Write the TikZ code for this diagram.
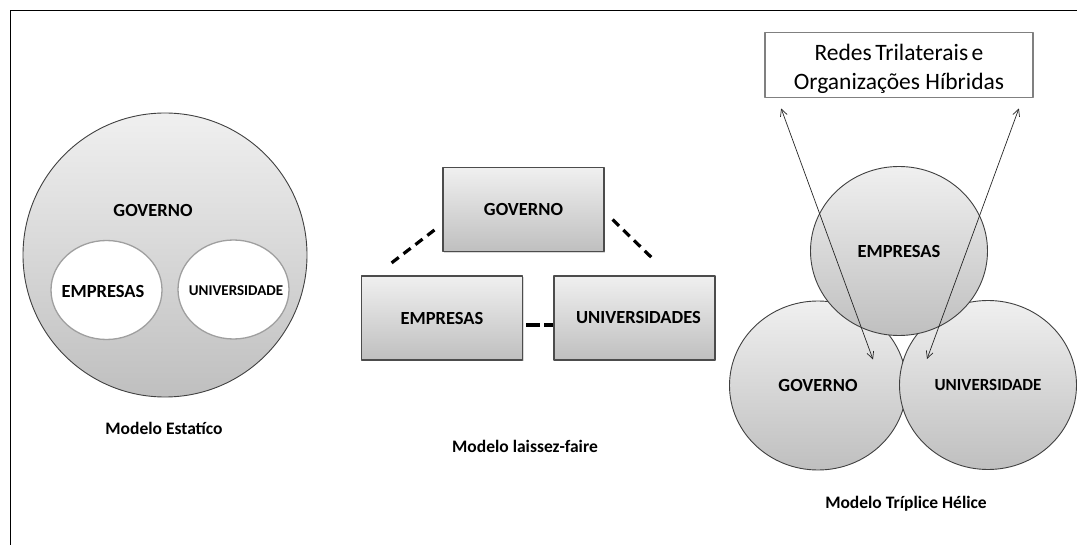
\documentclass[tikz,border=0pt]{standalone}
\usepackage{fontspec}
\setmainfont{Carlito}
\usetikzlibrary{shapes.geometric,arrows.meta,calc,shadows}

\begin{document}
\begin{tikzpicture}[line join=round,x=1pt,y=-1pt,
    lbl/.style={font=\fontsize{18.5}{20}\bfseries\selectfont},
    lblsmall/.style={font=\fontsize{15}{17}\bfseries\selectfont},
    modelcap/.style={font=\fontsize{17.5}{19}\bfseries\selectfont},
    greyshade/.style={top color=gray!12,bottom color=gray!50},
    bigdisc/.style={circle,draw=black!75,line width=0.9pt,greyshade,minimum size=284pt,inner sep=0pt},
    whiteell/.style={ellipse,draw=gray!75,line width=1.3pt,fill=white,minimum width=111pt,minimum height=99pt,inner sep=0pt},
    sector/.style={rectangle,draw=black!70,line width=1.1pt,greyshade,minimum width=161pt,minimum height=84pt,
      drop shadow={shadow xshift=1pt,shadow yshift=-1.5pt,opacity=0.3}},
    helix/.style={ellipse,draw=black!75,line width=0.9pt,greyshade,minimum width=177pt,minimum height=169pt,inner sep=0pt},
    dashline/.style={line width=3.2pt,dash pattern=on 9pt off 6pt},
    twoway/.style={<->,>={Straight Barb[length=7pt,width=7pt]},line width=0.7pt,draw=black!85}]
  \useasboundingbox (0,0) rectangle (1077,545);
  \draw[line width=1pt] (10.7,545) -- (10.7,11) -- (1077,11);
  % modelo estatico
  \node[bigdisc] (gov1) at (165,255) {};
  \node[lbl] (gov1txt) at (153,210) {GOVERNO};
  \node[whiteell] (emp1) at (106.5,290) {};
  \node[whiteell] (uni1) at (233.5,289.5) {};
  \node[lbl] (emp1txt) at (103,291) {EMPRESAS};
  \node[lblsmall] (uni1txt) at (236,291) {UNIVERSIDADE};
  \node[modelcap] (cap1) at (164,428) {Modelo Estatíco};
  % modelo laissez-faire
  \node[sector,lbl] (gov2) at (523.5,209.5) {GOVERNO};
  \node[sector,lbl] (emp2) at (442,318) {EMPRESAS};
  \node[sector,lbl] (uni2) at (634.5,318) {\hspace*{8pt}UNIVERSIDADES};
  \draw[dashline] ($(gov2.west)+(-8,20.5)$) -- ($(emp2.north west)+(26,-9)$);
  \draw[dashline] ($(gov2.east)+(8,10)$) -- ($(uni2.north)+(17,-18)$);
  \draw[dashline,dash pattern=on 14pt off 4pt] ($(emp2.east)+(3,7)$) -- ($(uni2.west)+(0,7)$);
  \node[modelcap] (cap2) at (525,446.7) {Modelo laissez-faire};
  % modelo triplice helice
  \node[draw=gray,line width=1.8pt,fill=white,minimum width=268pt,minimum height=65pt] (redes) at (899,65) {};
  \node[align=center,font=\fontsize{23.5}{29.5}\selectfont] (redestxt) at (899,69)
    {\spaceskip=0.15em plus 0.05em\relax Redes Trilaterais e\\Organizações Híbridas};
  \node[helix] (gov3) at (818,385.5) {};
  \node[helix] (uni3) at (988,385) {};
  \node[helix] (emp3) at (899,251) {};
  \node[lbl] (gov3txt) at (gov3) {GOVERNO};
  \node[lbl,font=\fontsize{17}{19}\bfseries\selectfont] (uni3txt) at (uni3) {UNIVERSIDADE};
  \node[lbl] (emp3txt) at (emp3) {EMPRESAS};
  \draw[twoway] ($(redes.south west)+(17,10)$) -- ($(gov3)+(55,-26)$);
  \draw[twoway] ($(redes.south east)+(-15,10)$) -- ($(uni3)+(-61,-26)$);
  \node[modelcap] (cap3) at (906,503.3) {Modelo Tríplice Hélice};
\end{tikzpicture}
\end{document}
